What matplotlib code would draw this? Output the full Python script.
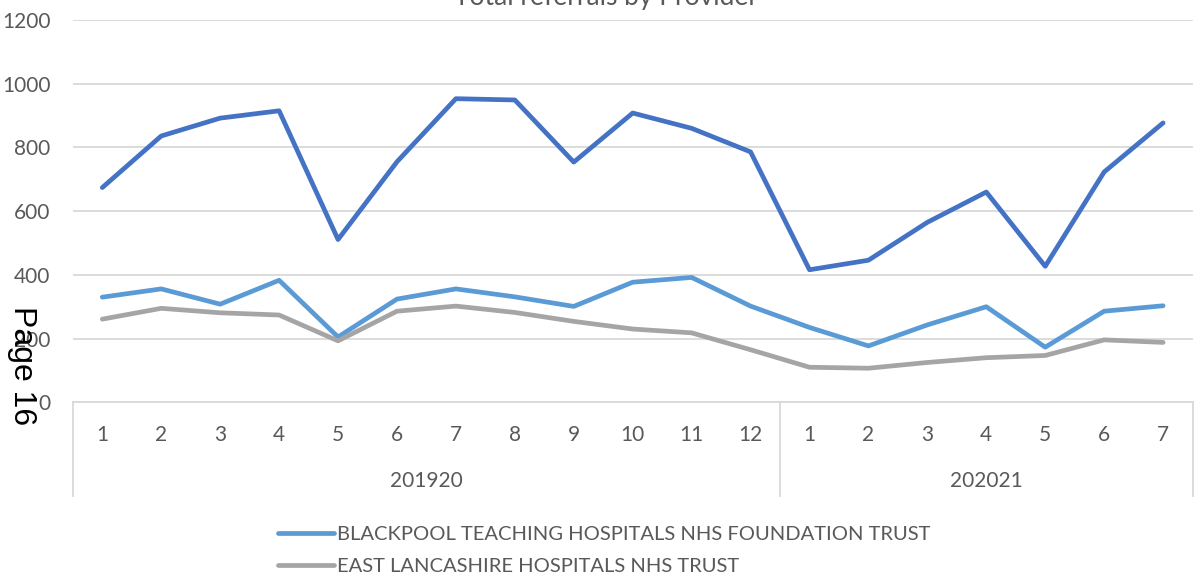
import matplotlib
matplotlib.use("Agg")
import matplotlib.pyplot as plt
from matplotlib.transforms import blended_transform_factory

plt.rcParams['font.family'] = ['Lato', 'DejaVu Sans']

# month labels for the two financial years
months = [1, 2, 3, 4, 5, 6, 7, 8, 9, 10, 11, 12, 1, 2, 3, 4, 5, 6, 7]
years = ['201920', '202021']
year_lengths = [12, 7]

# referrals per provider
top_provider = [674, 836, 892, 915, 511, 755, 953, 949, 754, 908,
                860, 786, 416, 446, 565, 660, 427, 723, 877]
blackpool = [330, 356, 308, 383, 205, 324, 356, 331, 301, 377,
             392, 302, 235, 177, 243, 300, 173, 286, 303]
east_lancs = [261, 295, 281, 274, 193, 286, 302, 282, 254, 230,
              218, 165, 110, 107, 125, 140, 147, 196, 188]

labels = ['BLACKPOOL TEACHING HOSPITALS NHS FOUNDATION TRUST',
          'EAST LANCASHIRE HOSPITALS NHS TRUST']

text_col = '#595959'
grid_col = '#D9D9D9'
fs = 15

fig = plt.figure(figsize=(12.04, 5.85), dpi=100)
ax = fig.add_axes([0.0605, 0.3123, 0.930, 0.6535])

x = list(range(len(months)))
ax.plot(x, top_provider, color='#4472C4', lw=3.4, solid_capstyle='round')
l1, = ax.plot(x, blackpool, color='#5B9BD5', lw=3.4, solid_capstyle='round')
l2, = ax.plot(x, east_lancs, color='#A5A5A5', lw=3.4, solid_capstyle='round')

ax.set_xlim(-0.5, len(months) - 0.5)
ax.set_ylim(0, 1200)
ax.set_yticks(range(0, 1201, 200))
ax.yaxis.grid(True, color=grid_col, lw=1.3)
ax.set_axisbelow(True)
for s in ['top', 'right', 'left']:
    ax.spines[s].set_visible(False)
ax.spines['bottom'].set_color(grid_col)
ax.spines['bottom'].set_linewidth(1.3)

ax.set_xticks(x)
ax.set_xticklabels([str(m) for m in months])
ax.tick_params(axis='x', length=0, pad=16, labelsize=fs, labelcolor=text_col)
ax.tick_params(axis='y', length=0, pad=16, labelsize=fs, labelcolor=text_col)

# second level of the category axis
trans = blended_transform_factory(ax.transData, ax.transAxes)
start = -0.5
bounds = [start]
for yr, n in zip(years, year_lengths):
    ax.text(start + n / 2, -0.205, yr, transform=trans, ha='center', va='center',
            fontsize=fs, color=text_col)
    start += n
    bounds.append(start)
for b in bounds:
    ax.plot([b, b], [0, -0.245], transform=trans, color=grid_col, lw=1.3, clip_on=False)

# title cut at the top of the page
fig.text(0.503, 1 - 5 / 585, 'Total referrals by Provider', ha='center', va='baseline',
         fontsize=19, color=text_col)

fig.legend([l1, l2], labels, loc='upper left', bbox_to_anchor=(0.231, 0.101),
           frameon=False, fontsize=14.5, handlelength=2.75, handletextpad=0.15,
           borderpad=0, borderaxespad=0, labelspacing=0.72, labelcolor=text_col)

# page number stamped over the chart
fig.text(0.018, 0.375, 'Page 16', rotation=-90, ha='center', va='center',
         fontsize=23, color='black', family='Liberation Sans')

fig.savefig('out.png', dpi=100)
